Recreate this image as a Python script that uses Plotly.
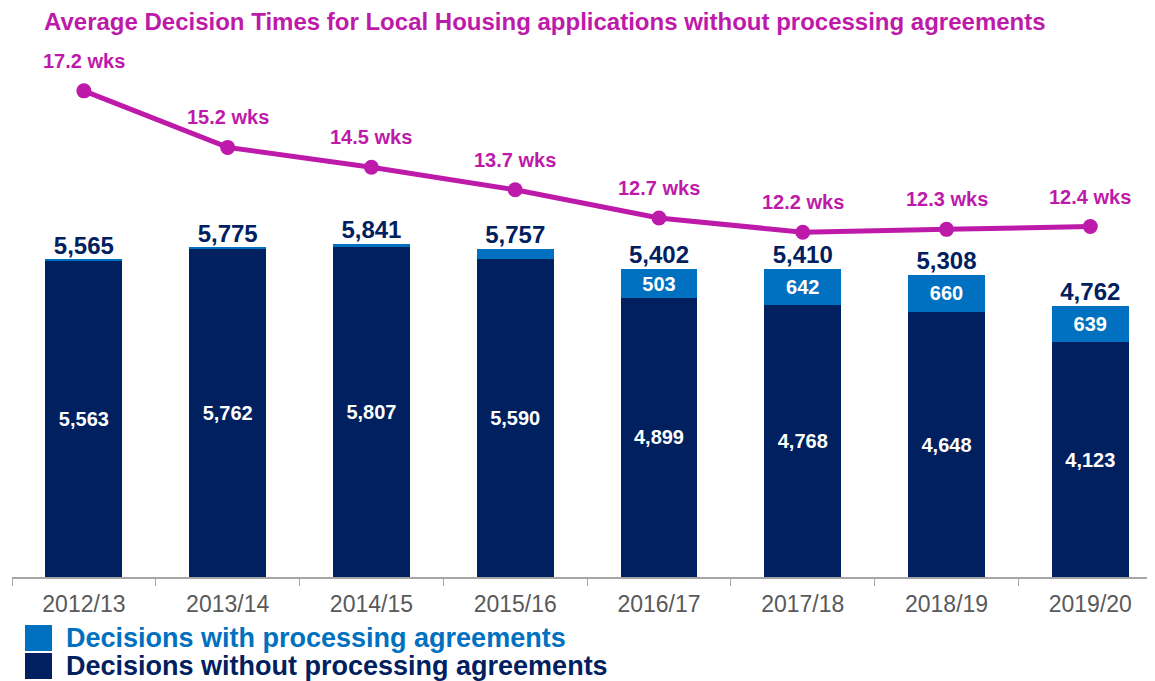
import plotly.graph_objects as go

years = ["2012/13", "2013/14", "2014/15", "2015/16", "2016/17", "2017/18", "2018/19", "2019/20"]
without_pa = [5563, 5762, 5807, 5590, 4899, 4768, 4648, 4123]
with_pa = [2, 13, 34, 167, 503, 642, 660, 639]
totals = [5565, 5775, 5841, 5757, 5402, 5410, 5308, 4762]
avg_weeks = [17.2, 15.2, 14.5, 13.7, 12.7, 12.2, 12.3, 12.4]

NAVY = "#002060"
BLUE = "#0070C0"
MAGENTA = "#BE1AAA"
GREY = "#595959"
FONT = "Liberation Sans, Arial, sans-serif"

# page offset (body margin) = 8px; plot area in page px: x 12..1155, y 40..577
OFF = 8
W, H = 1155 - OFF, 681 - OFF

fig = go.Figure()

fig.add_trace(go.Bar(
    x=years, y=without_pa, name="Decisions without processing agreements",
    marker=dict(color=NAVY, line=dict(width=0)),
    text=[f"{v:,}" for v in without_pa], textposition="inside",
    insidetextanchor="middle", textangle=0,
    textfont=dict(color="white", size=20, family=FONT, weight="bold"),
    width=0.535, showlegend=False,
))
fig.add_trace(go.Bar(
    x=years, y=with_pa, name="Decisions with processing agreements",
    marker=dict(color=BLUE, line=dict(width=0)),
    text=[f"{v:,}" if v >= 300 else "" for v in with_pa], textposition="inside",
    insidetextanchor="middle", textangle=0,
    textfont=dict(color="white", size=20, family=FONT, weight="bold"),
    width=0.535, showlegend=False,
))
fig.add_trace(go.Scatter(
    x=years, y=totals, mode="text", text=[f"{v:,}" for v in totals],
    textposition="top center",
    textfont=dict(color=NAVY, size=24, family=FONT, weight="bold"),
    showlegend=False, hoverinfo="skip",
))
fig.add_trace(go.Scatter(
    x=years, y=avg_weeks, yaxis="y2", mode="lines+markers",
    line=dict(color=MAGENTA, width=5), marker=dict(color=MAGENTA, size=15),
    showlegend=False, cliponaxis=False,
))

for yr, w in zip(years, avg_weeks):
    fig.add_annotation(x=yr, y=w, yref="y2", text=f"<b>{w} wks</b>", showarrow=False,
                       yshift=30, font=dict(color=MAGENTA, size=20, family=FONT))

# manual legend
legend_items = [("Decisions with processing agreements", BLUE, 638),
                ("Decisions without processing agreements", NAVY, 666)]
for label, col, ypx in legend_items:
    fig.add_shape(type="rect", xref="paper", yref="paper",
                  x0=(25 - 12) / 1143, x1=(52 - 12) / 1143,
                  y0=(577 - (ypx + 13)) / 537, y1=(577 - (ypx - 13)) / 537,
                  fillcolor=col, line=dict(width=0))
    fig.add_annotation(xref="paper", yref="paper", x=(64 - 12) / 1143, y=(577 - ypx) / 537,
                       xanchor="left", yanchor="middle", showarrow=False,
                       text=f"<b>{label}</b>", font=dict(color=col, size=27, family=FONT))

fig.update_layout(
    width=W, height=H,
    margin=dict(l=12 - OFF, r=0, t=40 - OFF, b=681 - 577),
    paper_bgcolor="white", plot_bgcolor="white",
    barmode="stack", bargap=0.46,
    title=dict(text="<b>Average Decision Times for Local Housing applications without processing agreements</b>",
               x=(44 - OFF) / W, xanchor="left", xref="container",
               y=1 - (22 - OFF) / H, yanchor="middle", yref="container",
               font=dict(color=MAGENTA, size=24, family=FONT)),
    xaxis=dict(type="category", range=[-0.5, 7.45], showline=True, linecolor="#A6A6A6", linewidth=1.5,
               ticks="outside", tickson="boundaries", ticklen=7, tickcolor="#A6A6A6",
               ticklabelstandoff=6,
               tickfont=dict(color=GREY, size=23, family=FONT), showgrid=False),
    yaxis=dict(range=[0, 9425], visible=False, showgrid=False, zeroline=False),
    yaxis2=dict(range=[0, 19.0], overlaying="y", visible=False, showgrid=False, zeroline=False),
    font=dict(family=FONT),
)

fig.write_html("out.html")
